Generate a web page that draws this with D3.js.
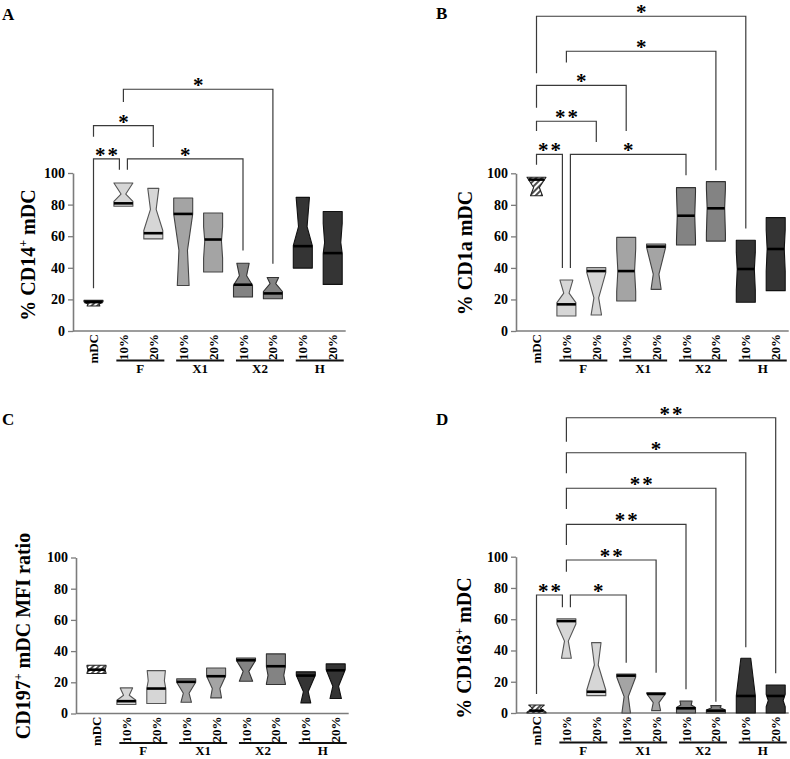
<!DOCTYPE html>
<html>
<head>
<meta charset="utf-8">
<script src="https://cdn.jsdelivr.net/npm/d3@7"></script>
<style>
  body { margin: 0; background: #fff; }
  svg { display: block; font-family: "Liberation Serif", "Times New Roman", serif; font-weight: bold; }
</style>
</head>
<body>
<svg id="fig" width="790" height="759"></svg>
<script>
// categories and labels
const cats = ["mDC", "F10", "F20", "X1_10", "X1_20", "X2_10", "X2_20", "H10", "H20"];
const tickLabels = ["mDC", "10%", "20%", "10%", "20%", "10%", "20%", "10%", "20%"];
const groupOf = ["mDC", "F", "F", "X1", "X1", "X2", "X2", "H", "H"];
const groupNames = ["F", "X1", "X2", "H"];
const yTicks = [0, 20, 40, 60, 80, 100];

// notched boxes: hi/lo = box extent, med = median line,
// nHi/nLo = where the notch starts, waist = narrowest point, w = waist width fraction
const cd14Boxes = [
  { hi: 19.4, lo: 15.8, med: 18.3, nHi: 18.5, waist: 17, nLo: 10, w: 0.6 },
  { hi: 93.7, lo: 79, med: 80.8, nHi: 93.7, waist: 86.7, nLo: 82, w: 0.25 },
  { hi: 90.3, lo: 58.3, med: 61.9, nHi: 110, waist: 77, nLo: 63.6, w: 0.3 },
  { hi: 84.2, lo: 28.8, med: 74.1, nHi: 74, waist: 51, nLo: -20, w: 0.45 },
  { hi: 74.7, lo: 37.3, med: 57.9, nHi: 66, waist: 57, nLo: 46, w: 0.88 },
  { hi: 42.9, lo: 21.5, med: 29.3, nHi: 53, waist: 35, nLo: 29, w: 0.38 },
  { hi: 33.9, lo: 20.4, med: 23.8, nHi: 39, waist: 30, nLo: 25, w: 0.3 },
  { hi: 84.6, lo: 39.8, med: 53.7, nHi: 107, waist: 66, nLo: 54, w: 0.45 },
  { hi: 75.6, lo: 29.5, med: 49.3, nHi: 68, waist: 56, nLo: 49, w: 0.85 }
];
const cd1aBoxes = [
  { hi: 97.5, lo: 85.8, med: 96, nHi: 97.5, waist: 91, nLo: 80, w: 0.3 },
  { hi: 32.3, lo: 9.5, med: 16.9, nHi: 39, waist: 24, nLo: 18, w: 0.28 },
  { hi: 40.2, lo: 10.1, med: 38, nHi: 37, waist: 21, nLo: -6, w: 0.25 },
  { hi: 59.4, lo: 19, med: 38, nHi: 52, waist: 38, nLo: 25, w: 0.88 },
  { hi: 55.2, lo: 26.4, med: 53.5, nHi: 53, waist: 36, nLo: 7, w: 0.3 },
  { hi: 90.9, lo: 54.5, med: 73.1, nHi: 88, waist: 73, nLo: 58, w: 0.92 },
  { hi: 94.7, lo: 57, med: 77.8, nHi: 90, waist: 78, nLo: 62, w: 0.92 },
  { hi: 57.5, lo: 18.2, med: 39.3, nHi: 50, waist: 39, nLo: 26, w: 0.9 },
  { hi: 71.9, lo: 25.6, med: 52, nHi: 64, waist: 52, nLo: 38, w: 0.9 }
];
const cd197Boxes = [
  { hi: 30.9, lo: 25.6, med: 28.1, nHi: 30, waist: 28, nLo: 26, w: 0.9 },
  { hi: 16.4, lo: 5.8, med: 7.9, nHi: 21, waist: 11.7, nLo: 8.5, w: 0.3 },
  { hi: 27.5, lo: 6.4, med: 16, nHi: 30, waist: 21, nLo: 16, w: 0.85 },
  { hi: 22.2, lo: 7.2, med: 20.3, nHi: 20, waist: 13, nLo: -3, w: 0.3 },
  { hi: 29.2, lo: 10, med: 23.9, nHi: 24, waist: 16, nLo: -5, w: 0.4 },
  { hi: 35.6, lo: 20.7, med: 34.1, nHi: 34, waist: 27, nLo: 16, w: 0.3 },
  { hi: 38.2, lo: 18.6, med: 30.3, nHi: 30, waist: 24.5, nLo: 19, w: 0.83 },
  { hi: 26.7, lo: 6.8, med: 24.3, nHi: 24.5, waist: 14, nLo: -6, w: 0.25 },
  { hi: 31.8, lo: 9.6, med: 27.7, nHi: 28, waist: 17.5, nLo: -1, w: 0.3 }
];
const cd163Boxes = [
  { hi: 5.1, lo: 0, med: 1.5, nHi: 6, waist: 3, nLo: 0.5, w: 0.4 },
  { hi: 60.3, lo: 35, med: 58.8, nHi: 57, waist: 46, nLo: 18.5, w: 0.2 },
  { hi: 45, lo: 11.1, med: 13.6, nHi: 69, waist: 30.7, nLo: 14.7, w: 0.2 },
  { hi: 25, lo: 0, med: 23.9, nHi: 23, waist: 10.5, nLo: -25, w: 0.22 },
  { hi: 13, lo: 1.5, med: 12.2, nHi: 12.5, waist: 6.6, nLo: -14, w: 0.3 },
  { hi: 7.7, lo: 0, med: 3, nHi: 18, waist: 5.1, nLo: 3.6, w: 0.55 },
  { hi: 4.7, lo: 0, med: 1.5, nHi: 10.6, waist: 3.4, nLo: 1.9, w: 0.45 },
  { hi: 35, lo: 0, med: 10.9, nHi: 45, waist: 35, nLo: 11, w: 0.52 },
  { hi: 17.9, lo: 0, med: 10.9, nHi: 12, waist: 8, nLo: 4, w: 0.78 }
];

// significance brackets (y values in axis units, drawn above 100 too)
const cd14Sig = [
  { a: "mDC", b: "F10", y: 109, ya: 27, yb: 102, p: "**" },
  { a: "F10", b: "X2_10", y: 109, ya: 102, yb: 51, p: "*" },
  { a: "mDC", b: "F20", y: 130, ya: 123, yb: 116.5, p: "*" },
  { a: "F10", b: "X2_20", y: 153, ya: 145, yb: 42.5, p: "*" }
];
const cd1aSig = [
  { a: "mDC", b: "F10", y: 112, ya: 105.5, yb: 40, p: "**" },
  { a: "F10", b: "X2_10", y: 112, ya: 40, yb: 98.7, p: "*" },
  { a: "mDC", b: "F20", y: 133, ya: 126.8, yb: 119.8, p: "**" },
  { a: "mDC", b: "X1_10", y: 155.7, ya: 141.6, yb: 126.8, p: "*" },
  { a: "F10", b: "X2_20", y: 177.4, ya: 170.3, yb: 101.9, p: "*" },
  { a: "mDC", b: "H10", y: 199.6, ya: 163.5, yb: 65, p: "*" }
];
const cd197Sig = [];
const cd163Sig = [
  { a: "mDC", b: "F10", y: 75.5, ya: 12.2, yb: 67.6, p: "**" },
  { a: "F10", b: "X1_10", y: 75.5, ya: 67.6, yb: 32.2, p: "*" },
  { a: "F10", b: "X1_20", y: 97.9, ya: 90.4, yb: 25.8, p: "**" },
  { a: "F10", b: "X2_10", y: 120.7, ya: 107.5, yb: 15.2, p: "**" },
  { a: "F10", b: "X2_20", y: 143.8, ya: 130.5, yb: 7.2, p: "**" },
  { a: "F10", b: "H10", y: 166.5, ya: 153.4, yb: 42, p: "*" },
  { a: "F10", b: "H20", y: 188.9, ya: 173.6, yb: 25.4, p: "**" }
];

const fills = { mDC: "url(#hatch)", F: "#d6d6d6", X1: "#a4a4a4", X2: "#838383", H: "#343434" };
const strokes = { mDC: "#222", F: "#555", X1: "#444", X2: "#333", H: "#111" };

const panels = [
  { letter: "A", lx: 2, ly: 20, title: ["% CD14", "+", " mDC"], tx: 35, ty: 255,
    ox: 73, y0: 331, y100: 173, boxes: cd14Boxes, sig: cd14Sig },
  { letter: "B", lx: 436, ly: 19, title: ["% CD1a mDC", "", ""], tx: 472, ty: 253,
    ox: 516, y0: 331, y100: 173.3, boxes: cd1aBoxes, sig: cd1aSig },
  { letter: "C", lx: 2, ly: 425, title: ["CD197", "+", " mDC MFI ratio"], tx: 30, ty: 636,
    ox: 76, y0: 713.5, y100: 557.5, boxes: cd197Boxes, sig: cd197Sig },
  { letter: "D", lx: 436, ly: 425, title: ["% CD163", "+", " mDC"], tx: 471, ty: 648,
    ox: 516, y0: 713, y100: 556.7, boxes: cd163Boxes, sig: cd163Sig }
];

const svg = d3.select("#fig");

// hatch for the mDC boxes
const pat = svg.append("defs").append("pattern")
  .attr("id", "hatch")
  .attr("patternUnits", "userSpaceOnUse")
  .attr("width", 4).attr("height", 4)
  .attr("patternTransform", "rotate(45)");
pat.append("rect").attr("width", 4).attr("height", 4).attr("fill", "#fff");
pat.append("line").attr("x1", 1).attr("y1", 0).attr("x2", 1).attr("y2", 4)
  .attr("stroke", "#222").attr("stroke-width", 1.6);

const STEP = 29.9, FIRST = 20.5, BOX_W = 19;

function widthAt(d, v) {
  if (v >= d.nHi || v <= d.nLo) return 1;
  if (v >= d.waist) return d.w + (1 - d.w) * (v - d.waist) / (d.nHi - d.waist);
  return d.w + (1 - d.w) * (d.waist - v) / (d.waist - d.nLo);
}

function boxPath(d, cx, y, half) {
  const levels = [d.hi, d.nHi, d.waist, d.nLo, d.lo]
    .filter(v => v <= d.hi && v >= d.lo)
    .sort((a, b) => b - a);
  const right = levels.map(v => [cx + half * widthAt(d, v), y(v)]);
  const left = levels.slice().reverse().map(v => [cx - half * widthAt(d, v), y(v)]);
  return d3.line()(right.concat(left)) + "Z";
}

function drawPanel(p) {
  const g = svg.append("g");

  const x = d3.scalePoint()
    .domain(cats)
    .range([p.ox + FIRST, p.ox + FIRST + STEP * (cats.length - 1)]);
  const y = d3.scaleLinear().domain([0, 100]).range([p.y0, p.y100]);
  const half = BOX_W / 2;

  // panel letter
  g.append("text")
    .attr("x", p.lx).attr("y", p.ly)
    .attr("font-size", 17)
    .text(p.letter);

  // y title
  const title = g.append("text")
    .attr("transform", `translate(${p.tx},${p.ty}) rotate(-90)`)
    .attr("text-anchor", "middle")
    .attr("font-size", 20);
  title.append("tspan").text(p.title[0]);
  if (p.title[1]) {
    title.append("tspan").attr("font-size", 12).attr("dy", -8).text(p.title[1]);
    title.append("tspan").attr("dy", 8).text(p.title[2]);
  }

  // y axis
  const yAxis = g.append("g")
    .attr("transform", `translate(${p.ox},0)`)
    .call(d3.axisLeft(y).tickValues(yTicks).tickSize(5).tickSizeOuter(0).tickPadding(3));
  yAxis.select(".domain").attr("stroke", "#7c7c7c").attr("stroke-width", 1.6);
  yAxis.selectAll(".tick line").attr("stroke", "#7c7c7c").attr("stroke-width", 1.3);
  yAxis.selectAll(".tick text")
    .attr("fill", "#000")
    .attr("font-size", 14)
    .attr("font-family", "Liberation Serif, serif")
    .attr("font-weight", "bold");

  // x axis line
  g.append("line")
    .attr("x1", p.ox).attr("x2", x(cats[cats.length - 1]) + 13)
    .attr("y1", y(0)).attr("y2", y(0))
    .attr("stroke", "#7c7c7c").attr("stroke-width", 1.6);

  // rotated tick labels
  g.selectAll("text.tick-label")
    .data(cats)
    .join("text")
    .attr("class", "tick-label")
    .attr("transform", (c) => `translate(${x(c) + 4.5},${y(0) + 3}) rotate(-90)`)
    .attr("text-anchor", "end")
    .attr("font-size", 13)
    .text((c, i) => tickLabels[i]);

  // group underlines + names
  groupNames.forEach(name => {
    const members = cats.filter((c, i) => groupOf[i] === name);
    const mid = (x(members[0]) + x(members[members.length - 1])) / 2 + 2;
    g.append("line")
      .attr("x1", mid - 24).attr("x2", mid + 24)
      .attr("y1", y(0) + 29.5).attr("y2", y(0) + 29.5)
      .attr("stroke", "#111").attr("stroke-width", 2);
    g.append("text")
      .attr("x", mid).attr("y", y(0) + 41.5)
      .attr("text-anchor", "middle")
      .attr("font-size", 13)
      .text(name);
  });

  // boxes
  p.boxes.forEach((d, i) => {
    const cx = x(cats[i]);
    const grp = groupOf[i];
    g.append("path")
      .attr("d", boxPath(d, cx, y, half))
      .attr("fill", fills[grp])
      .attr("stroke", strokes[grp])
      .attr("stroke-width", 1.1)
      .attr("stroke-linejoin", "round");
    const mw = half * widthAt(d, d.med);
    g.append("line")
      .attr("x1", cx - mw).attr("x2", cx + mw)
      .attr("y1", y(d.med)).attr("y2", y(d.med))
      .attr("stroke", "#000").attr("stroke-width", 2.6);
  });

  // significance brackets
  p.sig.forEach(s => {
    let xa = x(s.a), xb = x(s.b);
    if (p.sig.some(t => t !== s && t.a === s.b && t.y === s.y)) xb -= 4;
    if (p.sig.some(t => t !== s && t.b === s.a && t.y === s.y)) xa += 4;
    g.append("path")
      .attr("d", `M${xa},${y(s.ya)}V${y(s.y)}H${xb}V${y(s.yb)}`)
      .attr("fill", "none")
      .attr("stroke", "#3a3a3a")
      .attr("stroke-width", 1.2);
    g.append("text")
      .attr("x", (xa + xb) / 2 + (s.p.length > 1 ? 1 : 0))
      .attr("y", y(s.y) + 3)
      .attr("text-anchor", "middle")
      .attr("font-size", 21)
      .attr("letter-spacing", s.p.length > 1 ? 2 : 0)
      .text(s.p);
  });
}

panels.forEach(drawPanel);
</script>
</body>
</html>
